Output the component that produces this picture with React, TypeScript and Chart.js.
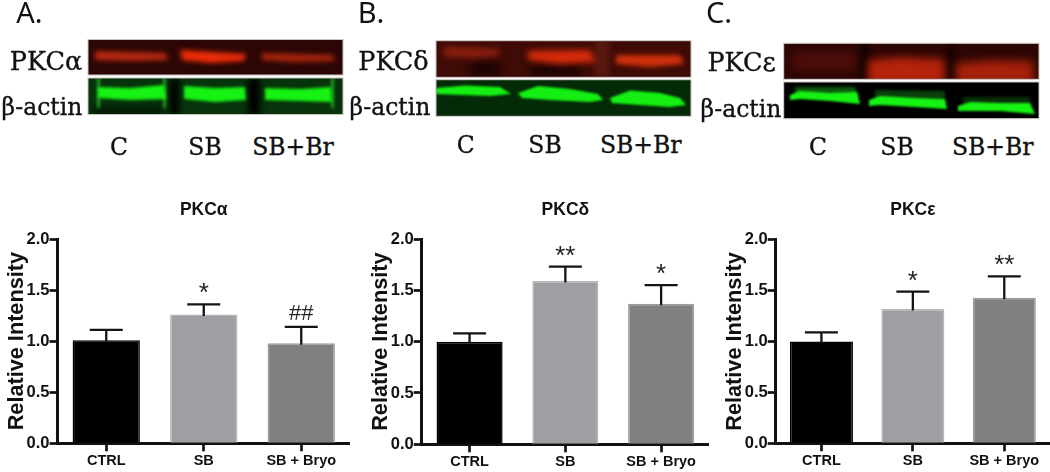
import React, { useEffect, useRef } from "react";
import { Chart, registerables } from "chart.js";

Chart.register(...registerables);

const categories = ["CTRL", "SB", "SB + Bryo"];
const alphaValues = [1.01, 1.26, 0.98];
const alphaErrorTops = [1.11, 1.36, 1.14];
const alphaMarks = ["", "*", "##"];
const deltaValues = [1.0, 1.59, 1.37];
const deltaErrorTops = [1.08, 1.73, 1.55];
const deltaMarks = ["", "**", "*"];
const epsilonValues = [1.0, 1.32, 1.43];
const epsilonErrorTops = [1.09, 1.49, 1.64];
const epsilonMarks = ["", "*", "**"];
const yTicks = [0, 0.5, 1, 1.5, 2];

const SANS = '"Liberation Sans", Arial, sans-serif';
const SERIF = '"DejaVu Serif", serif';

function errorBarPlugin(tops: number[], marks: string[]) {
  return {
    id: "errorBars",
    afterDatasetsDraw(chart: any) {
      const { ctx, scales } = chart;
      const meta = chart.getDatasetMeta(0);
      ctx.save();
      meta.data.forEach((bar: any, i: number) => {
        const yTop = scales.y.getPixelForValue(tops[i]);
        const yBar = scales.y.getPixelForValue(chart.data.datasets[0].data[i]);
        ctx.strokeStyle = "#141414";
        ctx.lineWidth = 2.3;
        ctx.beginPath();
        ctx.moveTo(bar.x, yBar + 1.5);
        ctx.lineTo(bar.x, yTop);
        ctx.moveTo(bar.x - 16.5, yTop);
        ctx.lineTo(bar.x + 16.5, yTop);
        ctx.stroke();
        const mark = marks[i];
        if (mark) {
          const hash = mark.includes("#");
          ctx.fillStyle = "#222";
          ctx.textAlign = "center";
          ctx.textBaseline = "alphabetic";
          ctx.font = `${hash ? 22 : 26}px ${SANS}`;
          ctx.fillText(mark, bar.x, yTop - (hash ? 7 : 3));
        }
      });
      ctx.restore();
    },
  };
}

type BarProps = {
  title: string;
  values: number[];
  tops: number[];
  marks: string[];
  left: number;
  width: number;
  axisLeft: number;
  axisBottom: number;
  titleBottom: number;
};

function BarPanel(p: BarProps) {
  const ref = useRef<HTMLCanvasElement | null>(null);
  useEffect(() => {
    const chart = new Chart(ref.current as HTMLCanvasElement, {
      type: "bar",
      data: {
        labels: categories,
        datasets: [
          {
            data: p.values,
            backgroundColor: ["#000000", "#9f9fa3", "#808080"],
            borderColor: ["#000000", "#b6b6ba", "#9b9b9b"],
            borderWidth: 1.5,
            barPercentage: 0.69,
            categoryPercentage: 1,
          },
        ],
      },
      options: {
        animation: false,
        responsive: false,
        devicePixelRatio: 1,
        layout: { padding: 0 },
        plugins: {
          legend: { display: false },
          tooltip: { enabled: false },
          title: {
            display: true,
            text: p.title,
            fullSize: false,
            color: "#111",
            font: { family: SANS, size: 17.5, weight: "bold" },
            padding: { top: 9.5, bottom: p.titleBottom },
          },
        },
        scales: {
          x: {
            afterFit(s: any) {
              s.height = p.axisBottom;
            },
            grid: {
              offset: false,
              drawOnChartArea: false,
              tickLength: 8,
              tickWidth: 2.7,
              tickColor: "#111",
            },
            border: { color: "#111", width: 3 },
            ticks: {
              color: "#111",
              padding: 1,
              maxRotation: 0,
              autoSkip: false,
              font: { family: SANS, size: 14.5, weight: "bold" },
            },
          },
          y: {
            min: 0,
            max: 2,
            afterFit(s: any) {
              s.width = p.axisLeft;
            },
            afterBuildTicks(s: any) {
              s.ticks = yTicks.map((value) => ({ value }));
            },
            grid: {
              drawOnChartArea: false,
              tickLength: 8,
              tickWidth: 2.7,
              tickColor: "#111",
            },
            border: { color: "#111", width: 3 },
            title: {
              display: true,
              text: "Relative Intensity",
              color: "#111",
              padding: { top: 4, bottom: 0 },
              font: { family: SANS, size: 21.7, weight: "bold" },
            },
            ticks: {
              color: "#111",
              padding: 0,
              callback: (v: any) => Number(v).toFixed(1),
              font: { family: SANS, size: 16.5, weight: "bold" },
            },
          },
        },
      },
      plugins: [errorBarPlugin(p.tops, p.marks)],
    } as any);
    return () => chart.destroy();
  }, []);
  return (
    <canvas
      ref={ref}
      width={p.width}
      height={282}
      style={{ position: "absolute", left: p.left, top: 190, width: p.width, height: 282 }}
    />
  );
}

function band(
  ctx: CanvasRenderingContext2D,
  color: string,
  blur: number,
  pts: number[][]
) {
  ctx.save();
  ctx.filter = `blur(${blur}px)`;
  ctx.fillStyle = color;
  ctx.beginPath();
  pts.forEach((q, i) => (i ? ctx.lineTo(q[0], q[1]) : ctx.moveTo(q[0], q[1])));
  ctx.closePath();
  ctx.fill();
  ctx.restore();
}

function rect(x: number, y: number, w: number, h: number) {
  return [
    [x, y],
    [x + w, y],
    [x + w, y + h],
    [x, y + h],
  ];
}

function panelFrame(
  ctx: CanvasRenderingContext2D,
  x: number,
  y: number,
  w: number,
  h: number,
  bg: string,
  draw: () => void
) {
  ctx.save();
  ctx.beginPath();
  ctx.rect(x, y, w, h);
  ctx.clip();
  ctx.fillStyle = bg;
  ctx.fillRect(x, y, w, h);
  draw();
  ctx.restore();
  ctx.strokeStyle = "#c9c4c0";
  ctx.lineWidth = 1;
  ctx.strokeRect(x, y, w, h);
}

function Blots() {
  const ref = useRef<HTMLCanvasElement | null>(null);
  useEffect(() => {
    const ctx = (ref.current as HTMLCanvasElement).getContext("2d") as CanvasRenderingContext2D;
    // Panel A
    panelFrame(ctx, 88, 39.5, 255, 35.5, "#2c0604", () => {
      band(ctx, "#b8280f", 2.5, [[95, 51], [166, 53], [168, 60], [130, 61], [95, 60]]);
      band(ctx, "#ee2c08", 2.5, [[180, 50], [246, 54], [244, 61], [210, 63], [182, 60]]);
      band(ctx, "#a8260e", 2.5, [[262, 53], [334, 55], [334, 61], [295, 62], [262, 60]]);
    });
    panelFrame(ctx, 88, 78, 255, 36.5, "#07340b", () => {
      band(ctx, "#000000", 3, rect(170, 78, 9, 37));
      band(ctx, "#000000", 3, rect(248, 78, 12, 37));
      band(ctx, "#021a05", 3, rect(92, 106, 70, 9));
      band(ctx, "#1f9e1f", 1.5, rect(97, 78, 3, 30));
      band(ctx, "#1f9e1f", 1.5, rect(163, 78, 3, 30));
      band(ctx, "#1f9e1f", 1.5, rect(331, 78, 3, 30));
      band(ctx, "#16f212", 1.6, [[98, 87], [130, 88], [164, 85], [166, 99], [130, 100], [98, 98]]);
      band(ctx, "#16f212", 1.6, [[184, 86], [215, 88], [245, 87], [246, 100], [215, 102], [184, 99]]);
      band(ctx, "#16f212", 1.6, [[265, 88], [300, 89], [331, 87], [332, 102], [300, 101], [265, 100]]);
    });
    // Panel B
    panelFrame(ctx, 436, 40.7, 255, 36.6, "#3f0b06", () => {
      band(ctx, "#1c0302", 4, rect(470, 62, 30, 15));
      band(ctx, "#1c0302", 4, rect(530, 64, 50, 13));
      band(ctx, "#5a1a10", 3, rect(595, 40, 14, 37));
      band(ctx, "#8f2110", 3, [[444, 47], [498, 49], [499, 56], [470, 58], [444, 56]]);
      band(ctx, "#d92c0a", 3, [[528, 51], [590, 50], [596, 62], [560, 64], [528, 60]]);
      band(ctx, "#d0300c", 2.5, [[616, 55], [680, 55], [684, 64], [650, 67], [616, 64]]);
    });
    panelFrame(ctx, 436, 79.7, 255, 36.6, "#052a08", () => {
      band(ctx, "#14ee12", 1.1, [[436, 88], [465, 85.5], [500, 87], [511, 94], [490, 96], [436, 94]]);
      band(ctx, "#14ee12", 1.1, [[518, 93], [538, 86], [570, 89], [598, 94], [603, 100], [590, 102], [550, 100], [522, 98]]);
      band(ctx, "#14ee12", 1.1, [[610, 98], [630, 90.5], [660, 93], [680, 98], [686, 105], [670, 107], [640, 105], [612, 103]]);
    });
    // Panel C
    panelFrame(ctx, 783.7, 43.3, 255.3, 36, "#2c0604", () => {
      band(ctx, "#4e0d08", 5, rect(792, 52, 66, 18));
      band(ctx, "#0f0201", 3, rect(860, 43, 8, 37));
      band(ctx, "#150302", 3, rect(947, 43, 7, 37));
      band(ctx, "#b5230b", 4.5, [[868, 60], [900, 57], [944, 59], [945, 84], [868, 84]]);
      band(ctx, "#a5200a", 4.5, [[956, 63], [990, 60], [1033, 61], [1034, 84], [956, 84]]);
    });
    panelFrame(ctx, 783.7, 82, 255.3, 36.7, "#000000", () => {
      band(ctx, "#0c5a0c", 1.5, [[795, 87], [855, 87], [858, 96], [795, 96]]);
      band(ctx, "#0a400a", 1.5, [[875, 90], [945, 91], [945, 100], [875, 100]]);
      band(ctx, "#083008", 1.5, [[963, 97], [1030, 97], [1030, 105], [963, 105]]);
      band(ctx, "#16f212", 1.0, [[790, 95], [800, 91], [830, 93], [857, 92], [860, 104], [830, 101], [800, 99], [790, 100]]);
      band(ctx, "#16f212", 1.0, [[869, 100], [880, 96], [915, 98], [945, 99], [947, 109], [915, 107], [880, 105], [869, 106]]);
      band(ctx, "#16f212", 1.0, [[958, 106], [970, 102], [1000, 103], [1030, 103], [1035, 114], [1000, 111], [970, 111], [958, 111]]);
    });
  }, []);
  return (
    <canvas
      ref={ref}
      width={1050}
      height={130}
      style={{ position: "absolute", left: 0, top: 0, width: 1050, height: 130 }}
    />
  );
}

function Label(props: { text: string; x: number; y: number; size: number; font?: string; stroke?: number }) {
  return (
    <div
      style={{
        position: "absolute",
        left: props.x,
        top: props.y,
        transform: "translate(-50%, -50%)",
        fontFamily: props.font ?? SERIF,
        fontSize: props.size,
        lineHeight: 1,
        whiteSpace: "nowrap",
        color: "#111",
        WebkitTextStroke: `${props.stroke ?? 0.35}px #111`,
      }}
    >
      {props.text}
    </div>
  );
}

const PANEL_FONT = '"Noto Sans", sans-serif';

export default function App() {
  return (
    <div
      style={{
        position: "fixed",
        left: 0,
        top: 0,
        width: 1050,
        height: 472,
        overflow: "hidden",
        background: "#fff",
        filter: "blur(0.4px)",
      }}
    >
      <Blots />
      <Label text="A." x={29.5} y={11} size={29} font={PANEL_FONT} stroke={0} />
      <Label text="B." x={371} y={11} size={29} font={PANEL_FONT} stroke={0} />
      <Label text="C." x={719} y={11} size={29} font={PANEL_FONT} stroke={0} />

      <Label text="PKCα" x={46} y={62} size={25.5} />
      <Label text="β-actin" x={42} y={108} size={23.5} />
      <Label text="C" x={119} y={148} size={23.5} />
      <Label text="SB" x={205} y={148} size={23.5} />
      <Label text="SB+Br" x={293} y={148} size={23.5} />

      <Label text="PKCδ" x={393.5} y={62} size={25.5} />
      <Label text="β-actin" x={390} y={108} size={23.5} />
      <Label text="C" x={465.7} y={146} size={23.5} />
      <Label text="SB" x={545} y={146} size={23.5} />
      <Label text="SB+Br" x={640.7} y={146} size={23.5} />

      <Label text="PKCε" x={741.5} y={63} size={25.5} />
      <Label text="β-actin" x={741} y={110} size={23.5} />
      <Label text="C" x={818} y={148} size={23.5} />
      <Label text="SB" x={897} y={148} size={23.5} />
      <Label text="SB+Br" x={992.7} y={148} size={23.5} />

      <BarPanel title="PKCα" values={alphaValues} tops={alphaErrorTops} marks={alphaMarks}
        left={0} width={350} axisLeft={57.5} axisBottom={28.7} titleBottom={18.5} />
      <BarPanel title="PKCδ" values={deltaValues} tops={deltaErrorTops} marks={deltaMarks}
        left={364} width={345} axisLeft={57.7} axisBottom={27.7} titleBottom={18.5} />
      <BarPanel title="PKCε" values={epsilonValues} tops={epsilonErrorTops} marks={epsilonMarks}
        left={718} width={332} axisLeft={57.7} axisBottom={28.7} titleBottom={19.2} />
    </div>
  );
}
